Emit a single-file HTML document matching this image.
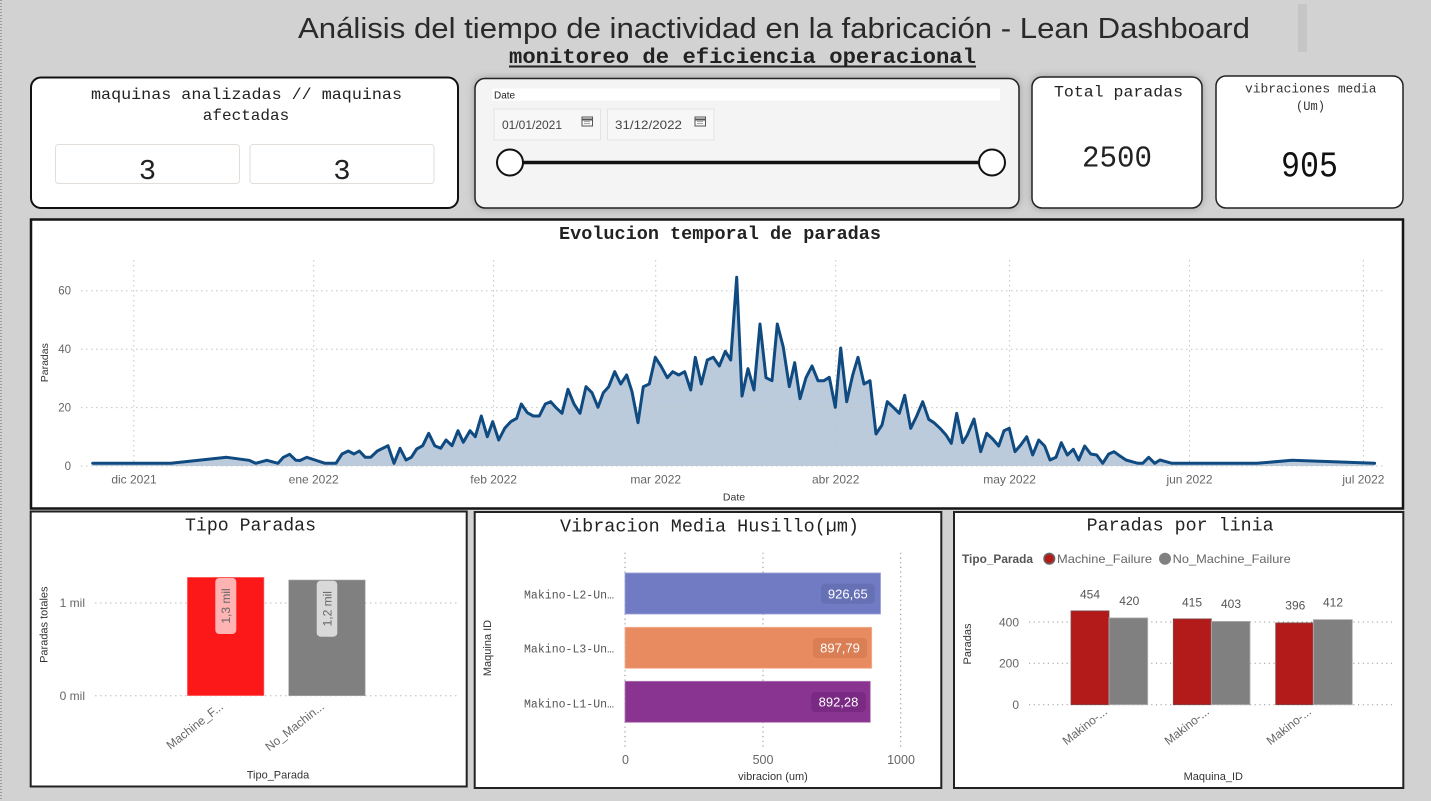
<!DOCTYPE html>
<html><head><meta charset="utf-8"><style>
html,body{margin:0;padding:0;background:#d2d2d2;}
svg{display:block;}
.mono{font-family:"Liberation Mono","DejaVu Sans Mono",monospace;}
.sans{font-family:"Liberation Sans","DejaVu Sans",sans-serif;}
</style></head><body>
<svg width="1431" height="801" viewBox="0 0 1431 801" xmlns="http://www.w3.org/2000/svg">
<defs>
<filter id="sh" x="-10%" y="-20%" width="120%" height="140%"><feDropShadow dx="0" dy="0" stdDeviation="4" flood-color="#000" flood-opacity="0.25"/></filter>
</defs>
<rect x="0" y="0" width="1431" height="801" fill="#d2d2d2"/>
<line x1="1" y1="0" x2="1" y2="801" stroke="#8a8a8a" stroke-width="1.5" stroke-dasharray="1 2"/>
<rect x="1298" y="4" width="9" height="48" fill="#c6c6c6"/>

<!-- Header -->
<text x="298" y="38" class="sans" font-size="29" fill="#2a2a2a" textLength="952" lengthAdjust="spacingAndGlyphs">Análisis del tiempo de inactividad en la fabricación - Lean Dashboard</text>
<text x="509" y="63" class="mono" font-size="21" font-weight="bold" fill="#222" textLength="467" lengthAdjust="spacingAndGlyphs">monitoreo de eficiencia operacional</text>
<rect x="509" y="65.5" width="467" height="2" fill="#222"/>

<!-- KPI card 1 -->
<rect x="31" y="77.5" width="427" height="130.5" rx="10" fill="#fff" stroke="#111" stroke-width="2"/>
<text x="91" y="99" class="mono" font-size="16" fill="#222" textLength="311" lengthAdjust="spacingAndGlyphs">maquinas analizadas // maquinas</text>
<text x="246" y="120" class="mono" font-size="16" fill="#222" text-anchor="middle">afectadas</text>
<rect x="55.5" y="144.5" width="184" height="39" rx="3" fill="#fff" stroke="#e2ddd8"/>
<rect x="250" y="144.5" width="184" height="39" rx="3" fill="#fff" stroke="#e2ddd8"/>
<text x="147.5" y="179" class="mono" font-size="29" fill="#222" text-anchor="middle">3</text>
<text x="342" y="179" class="mono" font-size="29" fill="#222" text-anchor="middle">3</text>

<!-- Date slicer -->
<rect x="475" y="78.5" width="544" height="129.5" rx="10" fill="#f4f4f4" stroke="#222" stroke-width="1.5" filter="url(#sh)"/>
<rect x="492.5" y="88.5" width="507.5" height="12" fill="#fff"/>
<text x="494" y="98.5" class="sans" font-size="10" fill="#222">Date</text>
<rect x="494" y="109" width="106.5" height="31" fill="#f7f7f7" stroke="#e3e3e3"/>
<rect x="607.5" y="109" width="106.5" height="31" fill="#f7f7f7" stroke="#e3e3e3"/>
<text x="502" y="129" class="sans" font-size="12" fill="#444" textLength="60" lengthAdjust="spacingAndGlyphs">01/01/2021</text>
<text x="615" y="129" class="sans" font-size="12" fill="#444" textLength="67" lengthAdjust="spacingAndGlyphs">31/12/2022</text>
<g fill="none" stroke="#555" stroke-width="1">
<rect x="582" y="117" width="10.5" height="9"/><line x1="582" y1="119.5" x2="592.5" y2="119.5" stroke-width="2"/>
<line x1="584.5" y1="121.5" x2="590.5" y2="121.5" stroke-dasharray="1 1"/><line x1="584.5" y1="123.5" x2="590.5" y2="123.5" stroke-dasharray="1 1"/>
<rect x="695" y="117" width="10.5" height="9"/><line x1="695" y1="119.5" x2="705.5" y2="119.5" stroke-width="2"/>
<line x1="697.5" y1="121.5" x2="703.5" y2="121.5" stroke-dasharray="1 1"/><line x1="697.5" y1="123.5" x2="703.5" y2="123.5" stroke-dasharray="1 1"/>
</g>
<line x1="510" y1="162.5" x2="992" y2="162.5" stroke="#111" stroke-width="3.5"/>
<circle cx="510" cy="162.5" r="13" fill="#fff" stroke="#111" stroke-width="2"/>
<circle cx="992" cy="162.5" r="13" fill="#fff" stroke="#111" stroke-width="2"/>

<!-- Total paradas -->
<rect x="1032" y="77" width="170" height="131" rx="10" fill="#fff" stroke="#222" stroke-width="1.5" filter="url(#sh)"/>
<text x="1054" y="96.5" class="mono" font-size="15.5" fill="#222" textLength="129" lengthAdjust="spacingAndGlyphs">Total paradas</text>
<text x="1082" y="166.5" class="mono" font-size="31" fill="#222" textLength="70" lengthAdjust="spacingAndGlyphs">2500</text>

<!-- Vibraciones -->
<rect x="1216" y="76" width="187" height="132" rx="10" fill="#fff" stroke="#222" stroke-width="1.5"/>
<text x="1245" y="92.5" class="mono" font-size="12.5" fill="#333" textLength="131.5" lengthAdjust="spacingAndGlyphs">vibraciones media</text>
<text x="1296" y="110" class="mono" font-size="12.5" fill="#333" textLength="29" lengthAdjust="spacingAndGlyphs">(Um)</text>
<text x="1281" y="176.5" class="mono" font-size="36" fill="#111" textLength="57" lengthAdjust="spacingAndGlyphs">905</text>

<!-- Line chart panel -->
<rect x="31" y="219.5" width="1372" height="289" fill="#fff" stroke="#151515" stroke-width="2.5"/>
<text x="559" y="239" class="mono" font-size="18" font-weight="bold" fill="#222" textLength="322" lengthAdjust="spacingAndGlyphs">Evolucion temporal de paradas</text>

<path d="M92.7,466 L92.7,463.3 L170.9,463.3 L226.7,457.3 L249,460.3 L255.7,463.3 L266.8,460.3 L278,463.3 L283.4,457.3 L289.6,454.3 L295.9,460.3 L300,460.5 L306.7,457.3 L315,460 L325,463.3 L336,463.3 L342,454 L348.3,451 L354,454 L359.3,451 L365.3,457.3 L370.7,457.3 L377.3,451 L388,445.7 L394,463.3 L400,448.3 L406,460 L411.3,457.3 L416.7,449 L422.7,445.7 L428.7,433.3 L434.7,445.7 L440.7,448.3 L446,440 L452,445.7 L458,430.7 L463.3,442.3 L470,430.7 L475.3,436.7 L481.3,416 L487.3,436.7 L492.7,421.7 L498.7,440 L504.7,428.3 L510.7,421.7 L516.7,418.3 L521.3,404 L527.3,412.7 L533.3,416 L539.3,416 L545.3,404 L550.7,401.7 L556.1,407.7 L562,413.3 L568,389.3 L574,404 L580,413.3 L586,386.7 L592,392.7 L598,407.3 L603.3,392.7 L608.7,386.7 L614.7,371.7 L620.7,384 L626.7,375 L632,391.7 L638,422.7 L643.3,386.7 L649.3,384 L655.3,357.3 L661.3,366.7 L667.3,377.7 L672.7,371.7 L678.7,375 L684.7,371.7 L690.7,390 L695.3,357.3 L701.3,384 L707.3,360 L713.3,357.3 L719.3,366 L725.3,351.3 L730.7,360 L736.7,277.3 L742,396 L748,368.7 L754,390 L760,324 L766,377.7 L772,380.7 L777.3,324 L783.3,347.3 L789.3,386.7 L794.7,362.7 L800,398.7 L806,377.7 L812,366 L818,380.7 L824,380.7 L829.3,377.3 L835.3,407.3 L840.7,348 L846.7,401.7 L852.7,375 L858,357.3 L864,384 L870,380.7 L876,434 L882,425 L887.3,401.7 L893.3,407.3 L899.3,413.3 L904.7,395.3 L910.7,428.3 L916.7,416 L922.7,401.7 L928.7,419.3 L934,422.7 L940,428.3 L946,435 L951.3,443.3 L956.7,413.3 L962.7,442.7 L967.3,435 L974,419 L980.7,451.7 L986.7,433.3 L992.7,439 L998.7,446 L1004,430.7 L1009.3,428.3 L1015,451.7 L1020.7,445 L1026.7,436.7 L1032.7,455 L1038.7,440 L1044.7,446 L1050,460 L1056,457.3 L1061.3,442.7 L1067.3,455 L1073.3,449.3 L1078.7,460 L1084.7,446 L1090.7,454 L1096.7,455 L1102.7,463.3 L1108.7,454 L1114,451.7 L1120,456 L1126,460 L1132,461.7 L1138,463.3 L1142.7,463.3 L1148.7,457.3 L1154.7,463.3 L1160,460 L1166,461.7 L1172,463.3 L1257,463.3 L1292,460.3 L1374.6,463.3 L1374.6,466 Z" fill="#bccbdc"/>

<g stroke="#c4c4c4" stroke-width="1" stroke-dasharray="1.5 3.5">
<line x1="81" y1="290.7" x2="1383" y2="290.7"/>
<line x1="81" y1="349.2" x2="1383" y2="349.2"/>
<line x1="81" y1="407.6" x2="1383" y2="407.6"/>
<line x1="81" y1="466" x2="1383" y2="466"/>
<line x1="133.8" y1="260" x2="133.8" y2="466"/>
<line x1="313.7" y1="260" x2="313.7" y2="466"/>
<line x1="493.6" y1="260" x2="493.6" y2="466"/>
<line x1="655.7" y1="260" x2="655.7" y2="466"/>
<line x1="835.7" y1="260" x2="835.7" y2="466"/>
<line x1="1009.6" y1="260" x2="1009.6" y2="466"/>
<line x1="1189.5" y1="260" x2="1189.5" y2="466"/>
<line x1="1363.4" y1="260" x2="1363.4" y2="466"/>
</g>

<polyline fill="none" stroke="#0f4a80" stroke-width="3" stroke-linejoin="round" stroke-linecap="round" points="92.7,463.3 170.9,463.3 226.7,457.3 249,460.3 255.7,463.3 266.8,460.3 278,463.3 283.4,457.3 289.6,454.3 295.9,460.3 300,460.5 306.7,457.3 315,460 325,463.3 336,463.3 342,454 348.3,451 354,454 359.3,451 365.3,457.3 370.7,457.3 377.3,451 388,445.7 394,463.3 400,448.3 406,460 411.3,457.3 416.7,449 422.7,445.7 428.7,433.3 434.7,445.7 440.7,448.3 446,440 452,445.7 458,430.7 463.3,442.3 470,430.7 475.3,436.7 481.3,416 487.3,436.7 492.7,421.7 498.7,440 504.7,428.3 510.7,421.7 516.7,418.3 521.3,404 527.3,412.7 533.3,416 539.3,416 545.3,404 550.7,401.7 556.1,407.7 562,413.3 568,389.3 574,404 580,413.3 586,386.7 592,392.7 598,407.3 603.3,392.7 608.7,386.7 614.7,371.7 620.7,384 626.7,375 632,391.7 638,422.7 643.3,386.7 649.3,384 655.3,357.3 661.3,366.7 667.3,377.7 672.7,371.7 678.7,375 684.7,371.7 690.7,390 695.3,357.3 701.3,384 707.3,360 713.3,357.3 719.3,366 725.3,351.3 730.7,360 736.7,277.3 742,396 748,368.7 754,390 760,324 766,377.7 772,380.7 777.3,324 783.3,347.3 789.3,386.7 794.7,362.7 800,398.7 806,377.7 812,366 818,380.7 824,380.7 829.3,377.3 835.3,407.3 840.7,348 846.7,401.7 852.7,375 858,357.3 864,384 870,380.7 876,434 882,425 887.3,401.7 893.3,407.3 899.3,413.3 904.7,395.3 910.7,428.3 916.7,416 922.7,401.7 928.7,419.3 934,422.7 940,428.3 946,435 951.3,443.3 956.7,413.3 962.7,442.7 967.3,435 974,419 980.7,451.7 986.7,433.3 992.7,439 998.7,446 1004,430.7 1009.3,428.3 1015,451.7 1020.7,445 1026.7,436.7 1032.7,455 1038.7,440 1044.7,446 1050,460 1056,457.3 1061.3,442.7 1067.3,455 1073.3,449.3 1078.7,460 1084.7,446 1090.7,454 1096.7,455 1102.7,463.3 1108.7,454 1114,451.7 1120,456 1126,460 1132,461.7 1138,463.3 1142.7,463.3 1148.7,457.3 1154.7,463.3 1160,460 1166,461.7 1172,463.3 1257,463.3 1292,460.3 1374.6,463.3"/>

<g class="sans" font-size="11.5" fill="#666" text-anchor="end">
<text x="71" y="294.5">60</text>
<text x="71" y="353">40</text>
<text x="71" y="411.5">20</text>
<text x="71" y="470">0</text>
</g>
<text transform="translate(48,362.7) rotate(-90)" class="sans" font-size="10.5" fill="#333" text-anchor="middle">Paradas</text>
<g class="sans" font-size="12" fill="#666" text-anchor="middle">
<text x="134" y="483.5">dic 2021</text>
<text x="313.7" y="483.5">ene 2022</text>
<text x="493.6" y="483.5">feb 2022</text>
<text x="655.7" y="483.5">mar 2022</text>
<text x="835.7" y="483.5">abr 2022</text>
<text x="1009.6" y="483.5">may 2022</text>
<text x="1189.5" y="483.5">jun 2022</text>
<text x="1363.4" y="483.5">jul 2022</text>
</g>
<text x="734" y="500.5" class="sans" font-size="10.5" fill="#333" text-anchor="middle">Date</text>

<!-- Panel 1: Tipo Paradas -->
<rect x="30.7" y="511.5" width="436" height="275" fill="#fff" stroke="#222" stroke-width="2"/>
<text x="185" y="530.7" class="mono" font-size="18" fill="#222" textLength="131" lengthAdjust="spacingAndGlyphs">Tipo Paradas</text>
<g stroke="#bbb" stroke-width="1" stroke-dasharray="1.5 3.5">
<line x1="95" y1="603" x2="460" y2="603"/>
<line x1="95" y1="695.7" x2="460" y2="695.7"/>
</g>
<g class="sans" font-size="12" fill="#666" text-anchor="end">
<text x="85" y="607">1 mil</text>
<text x="85" y="700">0 mil</text>
</g>
<rect x="187.3" y="577.3" width="76.7" height="118.4" fill="#fc1818" stroke="#f88" stroke-width="0.6"/>
<rect x="288.7" y="580" width="76.5" height="115.7" fill="#808080" stroke="#aaa" stroke-width="0.6"/>
<rect x="215.3" y="578" width="21" height="56" rx="4" fill="#ffb3b3"/>
<rect x="316.7" y="580.7" width="20.6" height="56" rx="4" fill="#d9d9d9"/>
<text transform="translate(230,606) rotate(-90)" class="sans" font-size="12" fill="#666" text-anchor="middle">1,3 mil</text>
<text transform="translate(331.3,608.7) rotate(-90)" class="sans" font-size="12" fill="#666" text-anchor="middle">1,2 mil</text>
<text transform="translate(224,708) rotate(-38)" class="sans" font-size="12" fill="#666" text-anchor="end">Machine_F...</text>
<text transform="translate(325,708) rotate(-38)" class="sans" font-size="12" fill="#666" text-anchor="end">No_Machin...</text>
<text transform="translate(47.5,624.7) rotate(-90)" class="sans" font-size="11" fill="#333" text-anchor="middle">Paradas totales</text>
<text x="278" y="778.5" class="sans" font-size="11" fill="#333" text-anchor="middle">Tipo_Parada</text>

<!-- Panel 2: Vibracion -->
<rect x="474.7" y="512" width="466.6" height="276" fill="#fff" stroke="#222" stroke-width="2"/>
<text x="560" y="531.3" class="mono" font-size="18.5" fill="#222" textLength="299" lengthAdjust="spacingAndGlyphs">Vibracion Media Husillo(µm)</text>
<g stroke="#888" stroke-width="1" stroke-dasharray="1.2 3.5">
<line x1="625" y1="552.7" x2="625" y2="747.3"/>
<line x1="763" y1="552.7" x2="763" y2="747.3"/>
<line x1="900.7" y1="552.7" x2="900.7" y2="747.3"/>
</g>
<rect x="625" y="573" width="255.5" height="41" fill="#717bc3" stroke="#9aa1d6" stroke-width="0.8"/>
<rect x="625" y="627.3" width="246.7" height="41" fill="#e98b61" stroke="#f3b295" stroke-width="0.8"/>
<rect x="625" y="681.3" width="245.3" height="41" fill="#8a3491" stroke="#b07ab5" stroke-width="0.8"/>
<rect x="821" y="583.7" width="53.7" height="20" rx="4" fill="#6670b5"/>
<rect x="813" y="638" width="54" height="20" rx="4" fill="#d97e55"/>
<rect x="811.3" y="692" width="54.4" height="20" rx="4" fill="#7a2a83"/>
<g class="sans" font-size="13" fill="#fff" text-anchor="middle">
<text x="847.8" y="598.3">926,65</text>
<text x="840" y="652.6">897,79</text>
<text x="838.5" y="706.6">892,28</text>
</g>
<g class="mono" font-size="11.5" fill="#555">
<text x="524" y="598.5" textLength="90" lengthAdjust="spacingAndGlyphs">Makino-L2-Un…</text>
<text x="524" y="652.5" textLength="90" lengthAdjust="spacingAndGlyphs">Makino-L3-Un…</text>
<text x="524" y="707.5" textLength="90" lengthAdjust="spacingAndGlyphs">Makino-L1-Un…</text>
</g>
<text transform="translate(491,648) rotate(-90)" class="sans" font-size="11" fill="#333" text-anchor="middle">Maquina ID</text>
<g class="sans" font-size="12.5" fill="#666" text-anchor="middle">
<text x="625.5" y="764">0</text>
<text x="763" y="764">500</text>
<text x="901" y="764">1000</text>
</g>
<text x="773" y="780" class="sans" font-size="11" fill="#333" text-anchor="middle">vibracion (um)</text>

<!-- Panel 3: Paradas por linia -->
<rect x="954" y="512" width="449.3" height="276" fill="#fff" stroke="#222" stroke-width="2"/>
<text x="1086.7" y="530.7" class="mono" font-size="18" fill="#222" textLength="187" lengthAdjust="spacingAndGlyphs">Paradas por linia</text>
<text x="962" y="563" class="sans" font-size="12" font-weight="bold" fill="#555" textLength="71" lengthAdjust="spacingAndGlyphs">Tipo_Parada</text>
<circle cx="1049.3" cy="558.7" r="5.3" fill="#b31b1b" stroke="#666" stroke-width="1.5"/>
<text x="1057" y="563" class="sans" font-size="12" fill="#666" textLength="95" lengthAdjust="spacingAndGlyphs">Machine_Failure</text>
<circle cx="1165" cy="558.7" r="6" fill="#808080"/>
<text x="1172.7" y="563" class="sans" font-size="12" fill="#666" textLength="118" lengthAdjust="spacingAndGlyphs">No_Machine_Failure</text>
<g stroke="#999" stroke-width="1" stroke-dasharray="1.2 3.5">
<line x1="1029" y1="622" x2="1393" y2="622"/>
<line x1="1029" y1="663.3" x2="1393" y2="663.3"/>
<line x1="1029" y1="704.7" x2="1393" y2="704.7"/>
</g>
<g class="sans" font-size="12" fill="#666" text-anchor="end">
<text x="1019" y="626.3">400</text>
<text x="1019" y="667.6">200</text>
<text x="1019" y="709">0</text>
</g>
<g stroke-width="0.8">
<rect x="1071" y="610.9" width="38" height="93.8" fill="#b31b1b" stroke="#7a4a4a"/>
<rect x="1109" y="617.9" width="38.7" height="86.8" fill="#808080" stroke="#b0b0b0"/>
<rect x="1173.3" y="618.9" width="38" height="85.8" fill="#b31b1b" stroke="#7a4a4a"/>
<rect x="1211.3" y="621.4" width="38.7" height="83.3" fill="#808080" stroke="#b0b0b0"/>
<rect x="1275.7" y="622.9" width="37.6" height="81.8" fill="#b31b1b" stroke="#7a4a4a"/>
<rect x="1313.3" y="619.6" width="39" height="85.1" fill="#808080" stroke="#b0b0b0"/>
</g>
<g class="sans" font-size="12" fill="#555" text-anchor="middle">
<text x="1090" y="598.3">454</text>
<text x="1129.3" y="605">420</text>
<text x="1192" y="606.3">415</text>
<text x="1231" y="608">403</text>
<text x="1295.3" y="609.6">396</text>
<text x="1333" y="606.3">412</text>
</g>
<g class="sans" font-size="12" fill="#666" text-anchor="end">
<text transform="translate(1108,713) rotate(-38)">Makino-...</text>
<text transform="translate(1210,713) rotate(-38)">Makino-...</text>
<text transform="translate(1312,713) rotate(-38)">Makino-...</text>
</g>
<text transform="translate(971,644) rotate(-90)" class="sans" font-size="11" fill="#333" text-anchor="middle">Paradas</text>
<text x="1213.3" y="780" class="sans" font-size="11" fill="#333" text-anchor="middle">Maquina_ID</text>
</svg>
</body></html>
